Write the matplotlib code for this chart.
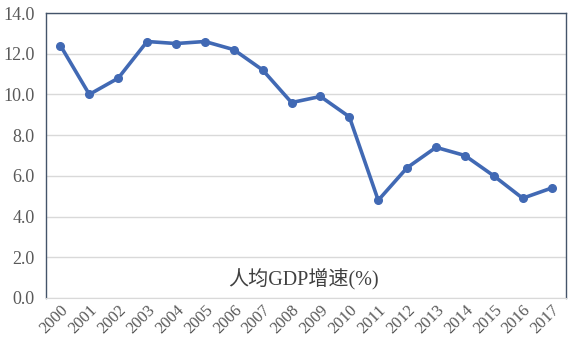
import matplotlib
matplotlib.use("Agg")
import matplotlib.pyplot as plt

years = [str(y) for y in range(2000, 2018)]
growth = [12.4, 10.0, 10.8, 12.6, 12.5, 12.6, 12.2, 11.2, 9.6, 9.9,
          8.9, 4.8, 6.4, 7.4, 7.0, 6.0, 4.9, 5.4]
yticks = [0, 2, 4, 6, 8, 10, 12, 14]
series_label = "人均GDP增速(%)"

fig = plt.figure(figsize=(5.72, 3.48), dpi=100)
ax = fig.add_axes([46 / 572, 1 - 298 / 348, 520 / 572, 285 / 348])

x = list(range(len(years)))
ax.plot(x, growth, color="#4169B4", lw=2.6, marker="o", ms=5.5,
        solid_joinstyle="round", zorder=3)

ax.set_xlim(-0.5, len(years) - 0.5)
ax.set_ylim(0, 14)
ax.set_yticks(yticks)
ax.set_yticklabels([f"{v:.1f}" for v in yticks], family="Liberation Serif",
                   fontsize=13, color="#595959")
ax.set_xticks(x)
ax.set_xticklabels(years, rotation=45, ha="right", rotation_mode="anchor",
                   family="Liberation Serif", fontsize=12, color="#595959")
ax.tick_params(axis="both", length=0)
ax.tick_params(axis="x", pad=3)
ax.tick_params(axis="y", pad=8)

ax.grid(axis="y", color="#D9D9D9", lw=1)
ax.set_axisbelow(True)
for side in ("left", "top", "right"):
    ax.spines[side].set_color("#44546A")
    ax.spines[side].set_linewidth(1)
ax.spines["bottom"].set_color("#D9D9D9")

ax.text(0.495, 0.065, series_label, transform=ax.transAxes, ha="center",
        va="center", fontsize=14.5, color="#404040",
        family=["Liberation Serif", "Noto Sans CJK SC"])

fig.savefig("out.png", dpi=100)
